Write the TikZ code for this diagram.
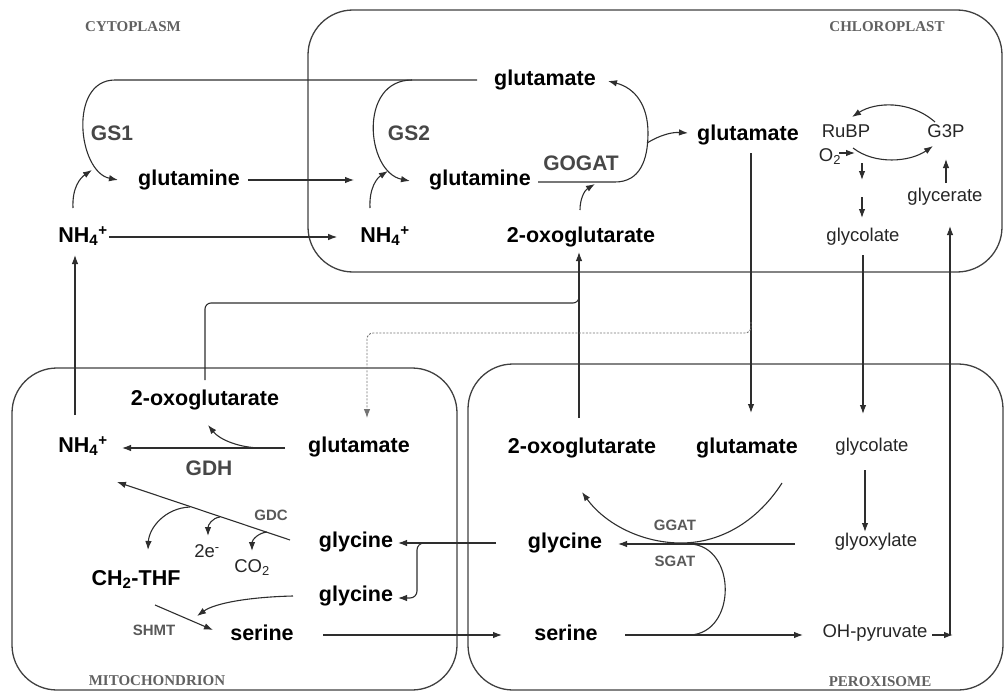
\documentclass[tikz,border=0pt]{standalone}
\usepackage{fontspec}
\setmainfont{Liberation Sans}
\newfontfamily\compserif{Liberation Serif}
\usetikzlibrary{arrows.meta}
\tikzset{
  ln/.style={line width=1.1pt, draw=black!82},
  arr/.style={ln, -{Latex[length=9pt,width=6.5pt]}},
  dsh/.style={line width=0.9pt, draw=black!55, dash pattern=on 2pt off 1.5pt, -{Latex[length=9pt,width=6.5pt]}},
  box/.style={line width=1.3pt, draw=black!75, rounded corners=45pt},
  sp/.style={font=\fontsize{21.5}{25}\selectfont\bfseries, inner sep=0pt, text height=15.5pt, text depth=4.3pt},
  lt/.style={font=\fontsize{18.5}{22}\selectfont, text=black!85, inner sep=0pt, text height=13.3pt, text depth=3.7pt},
  enz/.style={font=\fontsize{21}{24}\selectfont\bfseries, text=black!72, inner sep=0pt, text height=15pt, text depth=0pt},
  senz/.style={font=\fontsize{15}{18}\selectfont\bfseries, text=black!65, inner sep=0pt, text height=10.8pt, text depth=0pt},
  comp/.style={font=\compserif\fontsize{15}{18}\selectfont\bfseries, text=black!62, inner sep=0pt, text height=10pt, text depth=0pt},
}
\begin{document}
\begin{tikzpicture}[x=1pt,y=-1pt]
\useasboundingbox (0,0) rectangle (1005,693);
% compartments
\draw[box] (308,10) rectangle (1002,272);
\draw[box] (12,368) rectangle (457,690);
\draw[box] (468,364) rectangle (1003,690);
\node[comp] (lcyto) at (133,27) {CYTOPLASM};
\node[comp] (lchl) at (887,27) {CHLOROPLAST};
\node[comp] (lmito) at (157,680) {MITOCHONDRION};
\node[comp] (lper) at (880,681) {PEROXISOME};
% cytoplasm
\node[enz] (gs1) at (112,133) {GS1};
\node[sp] (glnC) at (189,180) {glutamine};
\node[sp] (nh4C) at (83,237) {NH\textsubscript{4}\textsuperscript{+}};
% chloroplast
\node[sp] (gluK1) at (545,80) {glutamate};
\node[enz] (gs2) at (409,133) {GS2};
\node[sp] (glnK) at (480,180) {glutamine};
\node[enz] (gogat) at (581,163) {GOGAT};
\node[sp] (nh4K) at (385,237) {NH\textsubscript{4}\textsuperscript{+}};
\node[sp] (oxoK) at (581,237) {2-oxoglutarate};
\node[sp] (gluK2) at (748,135) {glutamate};
\node[lt] (rubp) at (846,133) {RuBP};
\node[lt] (g3p) at (946,133) {G3P};
\node[lt] (o2) at (830,157) {O\textsubscript{2}};
\node[lt] (glycolK) at (863,237) {glycolate};
\node[lt] (glycer) at (945,197) {glycerate};
% mitochondrion
\node[sp] (oxoM) at (205,400) {2-oxoglutarate};
\node[sp] (nh4M) at (83,447) {NH\textsubscript{4}\textsuperscript{+}};
\node[sp] (gluM) at (359,447) {glutamate};
\node[enz] (gdh) at (209,468) {GDH};
\node[senz] (gdc) at (271,515) {GDC};
\node[lt] (e2) at (207,553) {2e\textsuperscript{-}};
\node[lt] (co2) at (252,568) {CO\textsubscript{2}};
\node[sp] (ch2) at (136,580) {CH\textsubscript{2}-THF};
\node[sp] (glyM1) at (356,542) {glycine};
\node[sp] (glyM2) at (356,596) {glycine};
\node[senz] (shmt) at (154,630) {SHMT};
\node[sp] (serM) at (262,635) {serine};
% peroxisome
\node[sp] (oxoP) at (582,448) {2-oxoglutarate};
\node[sp] (gluP) at (747,448) {glutamate};
\node[lt] (glycolP) at (872,447) {glycolate};
\node[sp] (glyP) at (565,543) {glycine};
\node[senz] (ggat) at (675,525) {GGAT};
\node[senz] (sgat) at (675,561) {SGAT};
\node[lt] (glyox) at (876,542) {glyoxylate};
\node[sp] (serP) at (566,635) {serine};
\node[lt] (ohpyr) at (875,633) {OH-pyruvate};

% ---- connectors: cytoplasm / chloroplast nitrogen ----
\draw[arr] (477,80) -- (115,80) .. controls (68,80) and (78,172) .. (118,180);
\draw[arr] (412,80) .. controls (358,80) and (366,172) .. (410,181);
\draw[arr] (73,208) .. controls (72,188) and (80,178) .. (92,170);
\draw[arr] (370,208) .. controls (369,188) and (377,178) .. (388,171);
\draw[arr, shorten <=8pt, shorten >=75pt] (glnC.east) -- (glnK.west);
\draw[arr, shorten <=1pt, shorten >=23pt] (nh4C.east) -- (nh4K.west);
\draw[arr] (538,182) -- (615,182) .. controls (640,182) and (648,160) .. (648,133)
           .. controls (648,105) and (635,88) .. (608,81);
\draw[arr] (647,143) .. controls (660,135) and (672,132) .. (688,133);
\draw[arr] (580,210) .. controls (580,198) and (585,190) .. (595,184);
% Calvin cycle
\draw[arr] (935,122) .. controls (910,100) and (875,102) .. (852,117);
\draw[arr] (853,148) .. controls (875,165) and (910,162) .. (933,146);
\draw[arr] (839,153) -- (855,153);
\draw[arr] (862,163) -- (862,180);
\draw[arr] (862,197) -- (862,218);
\draw[arr] (946,183) -- (946,159);
% ---- long transfers ----
\draw[arr] (751,153) -- (751,413);
\draw[arr] (863,255) -- (863,414);
\draw[arr] (579,418) -- (579,252);
\draw[ln, rounded corners=6pt] (205,380) -- (205,303) -- (579,303) -- (579,294);
\draw[dsh, rounded corners=6pt] (751,322) -- (751,333) -- (367,333) -- (367,418);
\draw[arr] (75,415) -- (75,255);
\draw[arr] (932,635) -- (953,635);
\draw[arr] (950,635) -- (950,226);
% ---- mitochondrion ----
\draw[arr] (285,448) -- (122,448);
\draw[arr] (262,448) .. controls (240,448) and (220,440) .. (208,425);
\draw[arr] (290,540) -- (117,482);
\draw[arr] (190,507) .. controls (165,508) and (149,528) .. (148,550);
\draw[arr] (220,517) .. controls (212,518) and (208,525) .. (208,536);
\draw[arr] (267,532) .. controls (258,533) and (252,540) .. (252,551);
\draw[arr] (293,596) .. controls (250,597) and (215,603) .. (197,616);
\draw[arr] (155,605) -- (213,630);
\draw[arr] (323,635) -- (502,635);
\draw[arr] (496,543) -- (398,543);
\draw[arr, rounded corners=7pt] (428,543) -- (417,543) -- (417,598) -- (398,598);
% ---- peroxisome ----
\draw[arr] (782,483) .. controls (759,519) and (723,543) .. (681,543)
           .. controls (642,543) and (605,524) .. (582,492);
\draw[arr] (795,544) -- (618,544);
\draw[ln] (690,544) .. controls (737,546) and (737,633) .. (690,635);
\draw[arr] (625,635) -- (803,635);
\draw[arr] (865,470) -- (865,532);
\end{tikzpicture}
\end{document}
